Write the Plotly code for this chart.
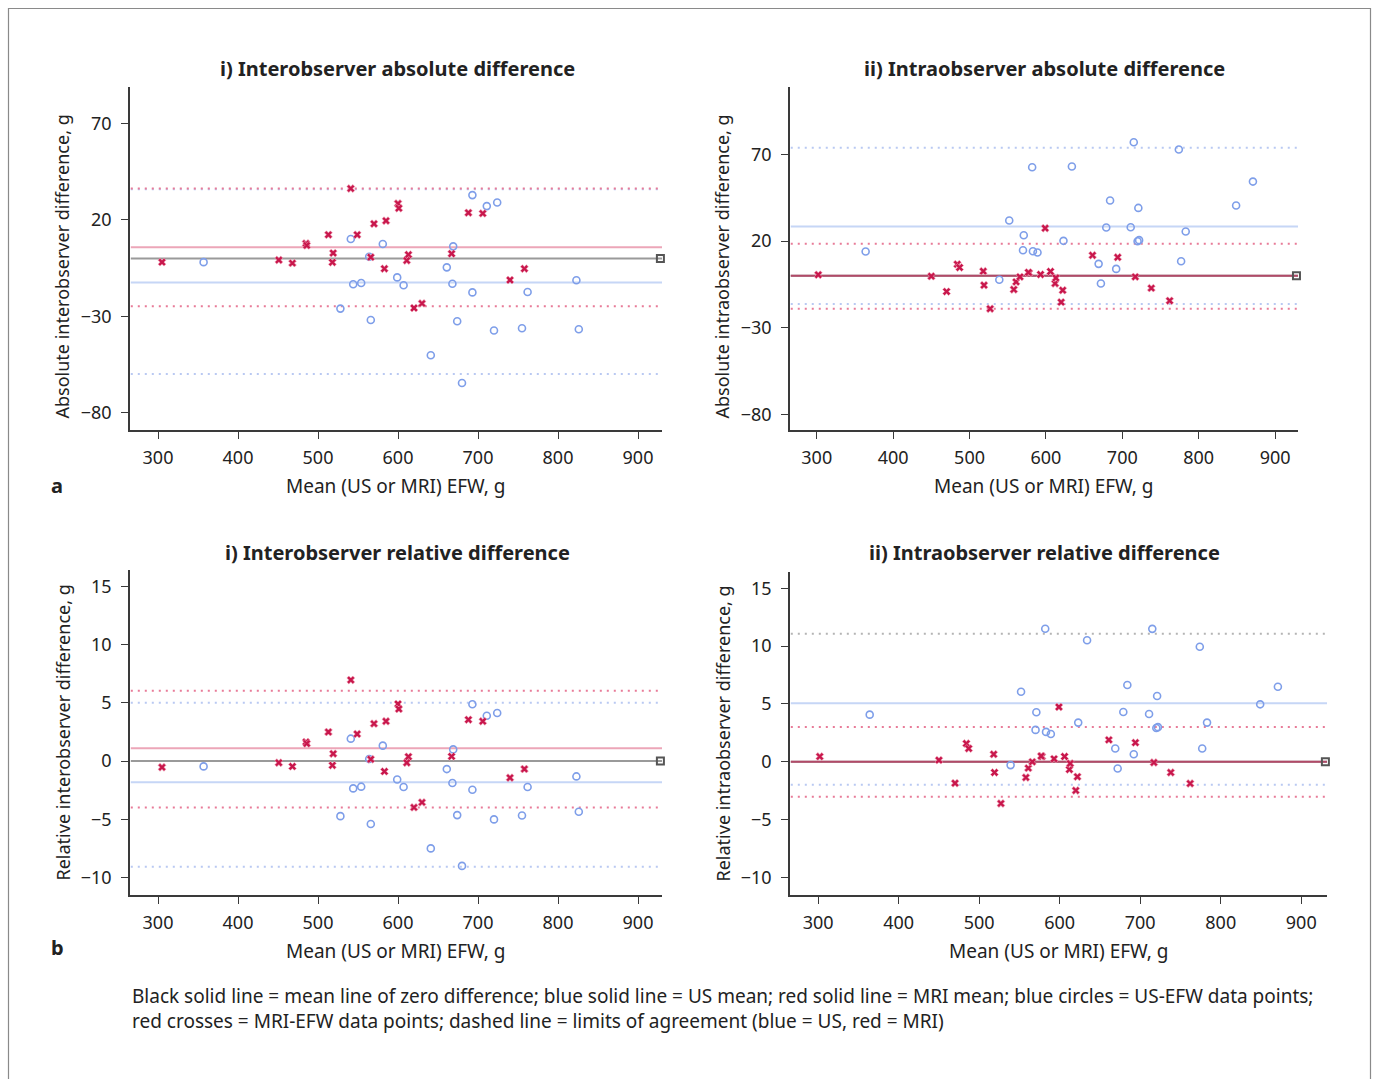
import plotly.graph_objects as go

W, H = 1375, 1079

# ---------------- data ----------------
# Interobserver (x = mean EFW, g)
inter_us_x = [357, 528, 541, 544, 554, 564, 566, 581, 599, 607, 641, 661, 668, 669, 674,
              680, 693, 693, 711, 720, 724, 755, 762, 823, 826]
inter_us_abs = [-1.9, -26.0, 10.1, -13.4, -12.7, 0.9, -31.9, 7.5, -9.8, -13.9, -50.2, -4.6, -13.1, 6.3, -32.6,
                -64.6, 32.9, -17.6, 27.2, -37.4, 29.1, -36.2, -17.4, -11.3, -36.7]
inter_us_rel = [-0.46, -4.73, 1.92, -2.35, -2.2, 0.17, -5.41, 1.32, -1.58, -2.23, -7.5, -0.69, -1.89, 1.0, -4.64,
                -9.0, 4.87, -2.46, 3.89, -5.01, 4.12, -4.67, -2.23, -1.32, -4.35]

inter_mri_x = [305, 451, 468, 485, 486, 513, 519, 518, 541, 549, 566, 570, 585, 583, 600,
               601, 613, 611, 667, 688, 706, 758, 740, 620, 630]
inter_mri_abs = [-1.9, -0.8, -2.4, 7.8, 6.8, 12.3, 2.8, -2.0, 36.3, 12.3, 0.7, 18.0, 19.6, -5.3, 28.5,
                 26.1, 2.0, -1.0, 2.5, 23.7, 23.4, -5.3, -11.2, -25.7, -23.3]
inter_mri_rel = [-0.54, -0.14, -0.46, 1.63, 1.5, 2.49, 0.63, -0.37, 6.96, 2.32, 0.15, 3.21, 3.41, -0.89, 4.90,
                 4.47, 0.37, -0.14, 0.4, 3.55, 3.41, -0.69, -1.43, -3.98, -3.55]

# Intraobserver
intra_us_x = [364, 539, 552, 571, 570, 582, 583, 589, 623, 634, 669, 672, 679, 684, 692,
              711, 715, 720, 721, 774, 777, 783, 849, 871, 722]
intra_us_abs = [14.0, -2.3, 31.9, 23.4, 14.8, 62.7, 14.2, 13.5, 20.2, 63.1, 6.9, -4.4, 27.9, 43.5, 4.0,
                28.0, 77.1, 20.0, 39.2, 72.9, 8.4, 25.6, 40.6, 54.4, 20.6]
intra_us_rel = [4.08, -0.28, 6.06, 4.28, 2.76, 11.5, 2.59, 2.41, 3.39, 10.5, 1.15, -0.57, 4.31, 6.64, 0.66,
                4.14, 11.49, 2.93, 5.69, 9.94, 1.15, 3.39, 4.97, 6.49, 3.0]

intra_mri_x = [302, 450, 470, 484, 487, 518, 519, 527, 558, 561, 566, 578, 593, 599, 606,
               612, 613, 620, 622, 661, 694, 717, 738, 762, 577]
intra_mri_abs = [0.6, -0.2, -9.1, 6.7, 4.8, 2.7, -5.4, -19.0, -7.9, -3.5, -0.6, 1.7, 0.8, 27.5, 2.5,
                 -4.4, -1.2, -15.2, -8.3, 11.9, 10.7, -0.6, -7.1, -14.4, 2.0]
intra_mri_rel = [0.46, 0.15, -1.84, 1.58, 1.15, 0.66, -0.92, -3.59, -1.35, -0.54, 0.0, 0.46, 0.26, 4.74, 0.46,
                 -0.66, -0.14, -2.47, -1.29, 1.90, 1.66, -0.06, -0.92, -1.87, 0.5]

# reference lines: [US mean, US lower LoA, US upper LoA, MRI mean, MRI lower LoA, MRI upper LoA]
inter_abs_lines = [-12.4, -60.0, 36.0, 5.8, -24.8, 36.3]
intra_abs_lines = [28.5, -16.2, 73.9, 0.0, -19.0, 18.5]
inter_rel_lines = [-1.83, -9.08, 5.0, 1.09, -3.98, 6.04]
intra_rel_lines = [5.06, -1.98, 11.06, 0.0, -3.02, 3.02]

x_ticks = [300, 400, 500, 600, 700, 800, 900]
abs_ticks = [-80, -30, 20, 70]
rel_ticks = [-10, -5, 0, 5, 10, 15]

titles = ["i) Interobserver absolute difference", "ii) Intraobserver absolute difference",
          "i) Interobserver relative difference", "ii) Intraobserver relative difference"]
ytitles = ["Absolute interobserver difference, g", "Absolute intraobserver difference, g",
           "Relative interobserver difference, g", "Relative intraobserver difference, g"]
xtitle = "Mean (US or MRI) EFW, g"
caption = ("Black solid line = mean line of zero difference; blue solid line = US mean; red solid line = MRI mean; "
           "blue circles = US-EFW data points;<br>red crosses = MRI-EFW data points; dashed line = limits of "
           "agreement (blue = US, red = MRI)")

FONT = "Noto Sans"
TXT = "#222222"
BLUE_PT = "#7e9ee9"
RED_PT = "#c8174c"
BLUE_LINE = "#c6d6f6"
RED_LINE = "#eca6b8"
BLUE_DOT = "#b9c9f2"
RED_DOT = "#e87b98"
ZERO = "#9a9a9a"
DOTS = "2px,5px"

def px(x):
    return x / W

def py(y):
    return 1 - y / H

# panel geometry (pixels): left, right, top, bottom
panels = [
    dict(box=(130, 662, 87, 430), xr=[265, 930], yr=[-89, 89], ticks=abs_ticks,
         usx=inter_us_x, usy=inter_us_abs, mx=inter_mri_x, my=inter_mri_abs, lines=inter_abs_lines,
         mri_mean_col=RED_LINE, us_up_col=BLUE_DOT),
    dict(box=(790, 1298, 87, 430), xr=[265, 930], yr=[-89, 109], ticks=abs_ticks,
         usx=intra_us_x, usy=intra_us_abs, mx=intra_mri_x, my=intra_mri_abs, lines=intra_abs_lines,
         mri_mean_col="#b24a68", us_up_col=BLUE_DOT),
    dict(box=(130, 662, 570, 895), xr=[265, 930], yr=[-11.5, 16.4], ticks=rel_ticks,
         usx=inter_us_x, usy=inter_us_rel, mx=inter_mri_x, my=inter_mri_rel, lines=inter_rel_lines,
         mri_mean_col=RED_LINE, us_up_col=BLUE_DOT),
    dict(box=(790, 1327, 572, 895), xr=[265, 932], yr=[-11.5, 16.4], ticks=rel_ticks,
         usx=intra_us_x, usy=intra_us_rel, mx=intra_mri_x, my=intra_mri_rel, lines=intra_rel_lines,
         mri_mean_col="#b24a68", us_up_col="#b4b4b4"),
]

fig = go.Figure()
layout = dict(width=W, height=H, margin=dict(l=0, r=0, t=0, b=0), showlegend=False,
              plot_bgcolor="white", paper_bgcolor="white",
              font=dict(family=FONT, size=18, color=TXT))
annotations = []

for i, p in enumerate(panels):
    n = "" if i == 0 else str(i + 1)
    xa, ya = "x" + n, "y" + n
    l, r, t, b = p["box"]
    x0, x1 = p["xr"]
    layout["xaxis" + n] = dict(domain=[px(l), px(r)], range=p["xr"], anchor=ya, tickvals=x_ticks,
                               showgrid=False, zeroline=False, showline=True, linecolor="#3a3a3a",
                               linewidth=1.5, ticks="outside", ticklen=7, tickcolor="#3a3a3a",
                               tickfont=dict(size=18, color=TXT, family=FONT), ticklabelstandoff=4)
    layout["yaxis" + n] = dict(domain=[py(b), py(t)], range=p["yr"], anchor=xa, tickvals=p["ticks"],
                               showgrid=False, zeroline=False, showline=True, linecolor="#3a3a3a",
                               linewidth=1.5, ticks="outside", ticklen=7, tickcolor="#3a3a3a",
                               tickfont=dict(size=18, color=TXT, family=FONT), ticklabelstandoff=6)
    us_m, us_lo, us_hi, m_m, m_lo, m_hi = p["lines"]
    xs = [x0 + 1, x1]

    def hline(y, color, dash, width=2):
        fig.add_trace(go.Scatter(x=xs, y=[y, y], mode="lines", xaxis=xa, yaxis=ya,
                                 line=dict(color=color, width=width, dash=dash), hoverinfo="skip"))

    hline(us_lo, BLUE_DOT, DOTS)
    hline(us_hi, p["us_up_col"], DOTS)
    hline(m_lo, RED_DOT, DOTS)
    hline(m_hi, RED_DOT, DOTS)
    hline(0, ZERO, "solid")
    hline(us_m, BLUE_LINE, "solid")
    hline(m_m, p["mri_mean_col"], "solid")

    fig.add_trace(go.Scatter(x=p["usx"], y=p["usy"], mode="markers", xaxis=xa, yaxis=ya,
                             marker=dict(symbol="circle-open", size=7, color=BLUE_PT, line=dict(width=1.6))))
    fig.add_trace(go.Scatter(x=p["mx"], y=p["my"], mode="markers", xaxis=xa, yaxis=ya,
                             marker=dict(symbol="x", size=7, color=RED_PT,
                                         line=dict(width=0.6, color="#f2a5b8"))))
    # small end marker on the zero line
    fig.add_trace(go.Scatter(x=[x1 - 2], y=[0], mode="markers", xaxis=xa, yaxis=ya, cliponaxis=False,
                             marker=dict(symbol="square-open", size=7, color="#555555",
                                         line=dict(width=2))))

    cx = (l + r) / 2
    annotations.append(dict(text="<b>" + titles[i] + "</b>", x=px(397 if i % 2 == 0 else 1044),
                            y=py(68 if i < 2 else 552), xref="paper", yref="paper", showarrow=False,
                            xanchor="center", yanchor="middle", font=dict(size=20, color=TXT, family=FONT)))
    annotations.append(dict(text=ytitles[i], x=px(l - 68), y=py((t + b) / 2 + 8 if i < 2 else (t + b) / 2),
                            xref="paper", yref="paper", showarrow=False, textangle=-90,
                            xanchor="center", yanchor="middle", font=dict(size=18, color=TXT, family=FONT)))
    annotations.append(dict(text=xtitle, x=px(cx), y=py(b + 56), xref="paper", yref="paper",
                            showarrow=False, xanchor="center", yanchor="middle",
                            font=dict(size=19, color=TXT, family=FONT)))

annotations.append(dict(text="<b>a</b>", x=px(57), y=py(486), xref="paper", yref="paper", showarrow=False,
                        xanchor="center", yanchor="middle", font=dict(size=20, color=TXT, family=FONT)))
annotations.append(dict(text="<b>b</b>", x=px(57), y=py(947), xref="paper", yref="paper", showarrow=False,
                        xanchor="center", yanchor="middle", font=dict(size=20, color=TXT, family=FONT)))
annotations.append(dict(text=caption, x=px(130), y=py(1008), xref="paper", yref="paper", showarrow=False,
                        xanchor="left", yanchor="middle", align="left",
                        font=dict(size=19, color=TXT, family=FONT)))

layout["annotations"] = annotations
layout["shapes"] = [dict(type="rect", xref="paper", yref="paper", x0=px(8.5), x1=px(1370.5),
                         y0=-0.01, y1=py(8.5), line=dict(color="#8a8a8a", width=1.2),
                         fillcolor="rgba(0,0,0,0)", layer="below")]
fig.update_layout(**layout)
fig.write_html("out.html")
